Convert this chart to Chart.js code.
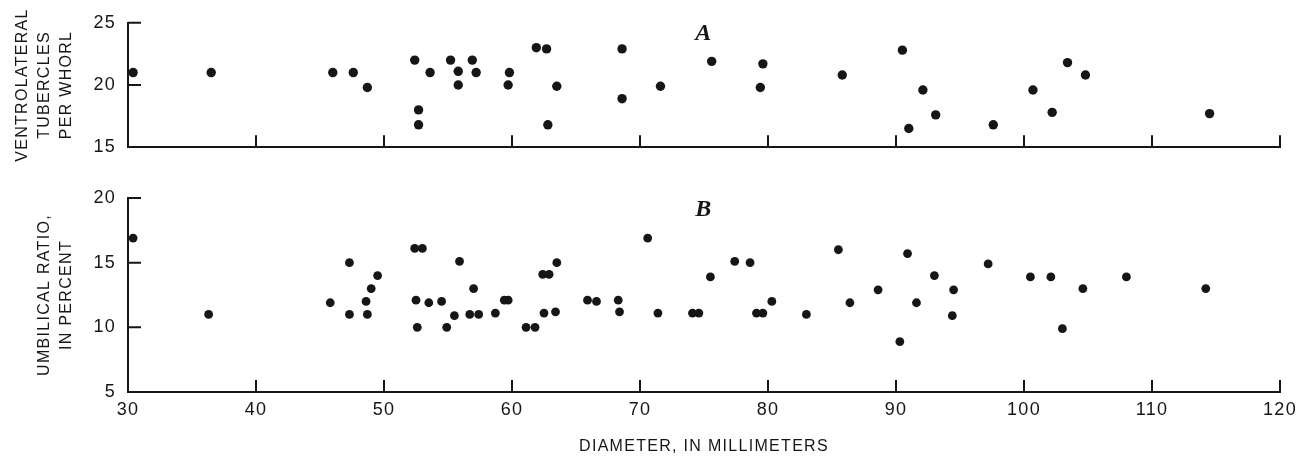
<html>

<head>
  <title>Ventrolateral tubercles and umbilical ratio</title>
  <script src="https://cdn.jsdelivr.net/npm/chart.js@4.4.0/dist/chart.umd.min.js"></script>
  <style>
    body { margin: 0; background: #fff; }
    #wrap { position: relative; width: 1309px; height: 459px; }
    #topBox { position: absolute; left: 0; top: 0; width: 1309px; height: 170px; }
    #botBox { position: absolute; left: 0; top: 170px; width: 1309px; height: 289px; }
  </style>
</head>

<body>
  <div id="wrap">
    <div id="topBox"><canvas id="chartA"></canvas></div>
    <div id="botBox"><canvas id="chartB"></canvas></div>
  </div>

  <script>
    // panel A: tubercles per whorl vs diameter (mm)
    const diameterA = [30.4, 36.5, 46.0, 47.6, 48.7, 52.4, 52.7, 52.7, 53.6, 55.2, 55.8, 55.8, 56.9, 57.2,
      59.8, 59.7, 61.9, 62.7, 63.5, 62.8, 68.6, 68.6, 71.6, 75.6, 79.6, 79.4, 85.8, 90.5, 92.1, 91.0,
      93.1, 97.6, 100.7, 102.2, 103.4, 104.8, 114.5];
    const tuberclesA = [21, 21, 21, 21, 19.8, 22, 18, 16.8, 21, 22, 21.1, 20, 22, 21,
      21, 20, 23, 22.9, 19.9, 16.8, 22.9, 18.9, 19.9, 21.9, 21.7, 19.8, 20.8, 22.8, 19.6, 16.5,
      17.6, 16.8, 19.6, 17.8, 21.8, 20.8, 17.7];

    // panel B: umbilical ratio (%) vs diameter (mm)
    const diameterB = [30.4, 36.3, 45.8, 47.3, 47.3, 48.6, 48.7, 49.0, 49.5, 52.4, 53.0, 52.5, 52.6, 53.5,
      54.5, 54.9, 55.5, 55.9, 57.0, 56.7, 57.4, 58.7, 59.4, 59.7, 61.1, 61.8, 62.5, 62.4, 62.9, 63.5,
      63.4, 65.9, 66.6, 68.3, 68.4, 70.6, 71.4, 74.1, 74.6, 75.5, 77.4, 78.6, 79.1, 79.6, 80.3, 83.0,
      85.5, 86.4, 88.6, 90.9, 90.3, 93.0, 91.6, 94.5, 94.4, 97.2, 100.5, 102.1, 103.0, 104.6, 108.0, 114.2];
    const umbilicalB = [16.9, 11, 11.9, 15, 11, 12, 11, 13, 14, 16.1, 16.1, 12.1, 10, 11.9,
      12, 10, 10.9, 15.1, 13, 11, 11, 11.1, 12.1, 12.1, 10, 10, 11.1, 14.1, 14.1, 15,
      11.2, 12.1, 12, 12.1, 11.2, 16.9, 11.1, 11.1, 11.1, 13.9, 15.1, 15, 11.1, 11.1, 12, 11,
      16, 11.9, 12.9, 15.7, 8.9, 14, 11.9, 12.9, 10.9, 14.9, 13.9, 13.9, 9.9, 13, 13.9, 13];

    const xTicks = [30, 40, 50, 60, 70, 80, 90, 100, 110, 120];
    const yTicksA = [15, 20, 25];
    const yTicksB = [5, 10, 15, 20];
    // panel letters, placed in data units
    const panelLabels = { A: [75, 24.15], B: [75, 19.1] };

    const ink = '#161616';
    const sans = "'Liberation Sans', Arial, sans-serif";

    // the original is typeset with wide letter spacing
    const spacing = {
      id: 'spacing',
      beforeDraw(chart) { chart.ctx.letterSpacing = '1.3px'; }
    };

    // short tick marks pointing into the plot
    const inwardTicks = {
      id: 'inwardTicks',
      afterDatasetsDraw(chart) {
        const { ctx, chartArea, scales } = chart;
        ctx.save();
        ctx.strokeStyle = ink;
        ctx.lineWidth = 2;
        ctx.beginPath();
        scales.x.ticks.forEach(t => {
          if (t.value === scales.x.min) return;
          const px = scales.x.getPixelForValue(t.value);
          ctx.moveTo(px, chartArea.bottom);
          ctx.lineTo(px, chartArea.bottom - 12);
        });
        scales.y.ticks.forEach(t => {
          if (t.value === scales.y.min) return;
          const py = scales.y.getPixelForValue(t.value);
          ctx.moveTo(chartArea.left, py);
          ctx.lineTo(chartArea.left + 13, py);
        });
        ctx.stroke();
        ctx.restore();
      }
    };

    const panelLetter = {
      id: 'panelLetter',
      afterDatasetsDraw(chart, args, opts) {
        const pos = panelLabels[opts.text];
        const { ctx, scales } = chart;
        ctx.save();
        ctx.font = "italic bold 24px 'Liberation Serif', 'DejaVu Serif', serif";
        ctx.fillStyle = ink;
        ctx.textAlign = 'center';
        ctx.textBaseline = 'middle';
        ctx.fillText(opts.text, scales.x.getPixelForValue(pos[0]), scales.y.getPixelForValue(pos[1]));
        ctx.restore();
      }
    };

    function points(xs, ys) {
      return xs.map((x, i) => ({ x: x, y: ys[i] }));
    }

    function makeChart(id, xs, ys, yMin, yMax, yTicks, titleLines, titlePad, letter, radius, bottomAxis) {
      return new Chart(document.getElementById(id), {
        type: 'scatter',
        data: {
          datasets: [{
            data: points(xs, ys),
            backgroundColor: ink,
            borderWidth: 0,
            pointRadius: radius,
            pointHoverRadius: radius,
            clip: false
          }]
        },
        options: {
          responsive: true,
          maintainAspectRatio: false,
          animation: false,
          layout: { padding: { top: bottomAxis ? 28 : 21, right: 29, left: 0, bottom: 0 } },
          plugins: {
            legend: { display: false },
            tooltip: { enabled: false },
            panelLetter: { text: letter }
          },
          scales: {
            x: {
              type: 'linear',
              min: 30,
              max: 120,
              afterBuildTicks: s => { s.ticks = xTicks.map(v => ({ value: v })); },
              afterFit: s => { s.height = bottomAxis ? 67 : 20; },
              grid: { display: false, drawTicks: false },
              border: { display: true, color: ink, width: 2 },
              ticks: {
                display: bottomAxis,
                color: ink,
                padding: 7,
                maxRotation: 0,
                font: { family: sans, size: 18 }
              },
              title: {
                display: bottomAxis,
                text: 'DIAMETER, IN MILLIMETERS',
                color: ink,
                padding: { top: 0, bottom: 3 },
                font: { family: sans, size: 16 }
              }
            },
            y: {
              type: 'linear',
              min: yMin,
              max: yMax,
              afterBuildTicks: s => { s.ticks = yTicks.map(v => ({ value: v })); },
              afterFit: s => { s.width = 128; },
              grid: { display: false, drawTicks: false },
              border: { display: true, color: ink, width: 2 },
              ticks: {
                color: ink,
                padding: 12,
                font: { family: sans, size: 18 }
              },
              title: {
                display: true,
                text: titleLines,
                color: ink,
                padding: { top: titlePad, bottom: 0 },
                font: { family: sans, size: 16, lineHeight: 1.4 }
              }
            }
          }
        },
        plugins: [spacing, inwardTicks, panelLetter]
      });
    }

    makeChart('chartA', diameterA, tuberclesA, 15, 25, yTicksA,
      ['VENTROLATERAL', 'TUBERCLES', 'PER WHORL'], 11, 'A', 4.7, false);
    makeChart('chartB', diameterB, umbilicalB, 5, 20, yTicksB,
      ['UMBILICAL RATIO,', 'IN PERCENT'], 33, 'B', 4.4, true);
  </script>
</body>

</html>
